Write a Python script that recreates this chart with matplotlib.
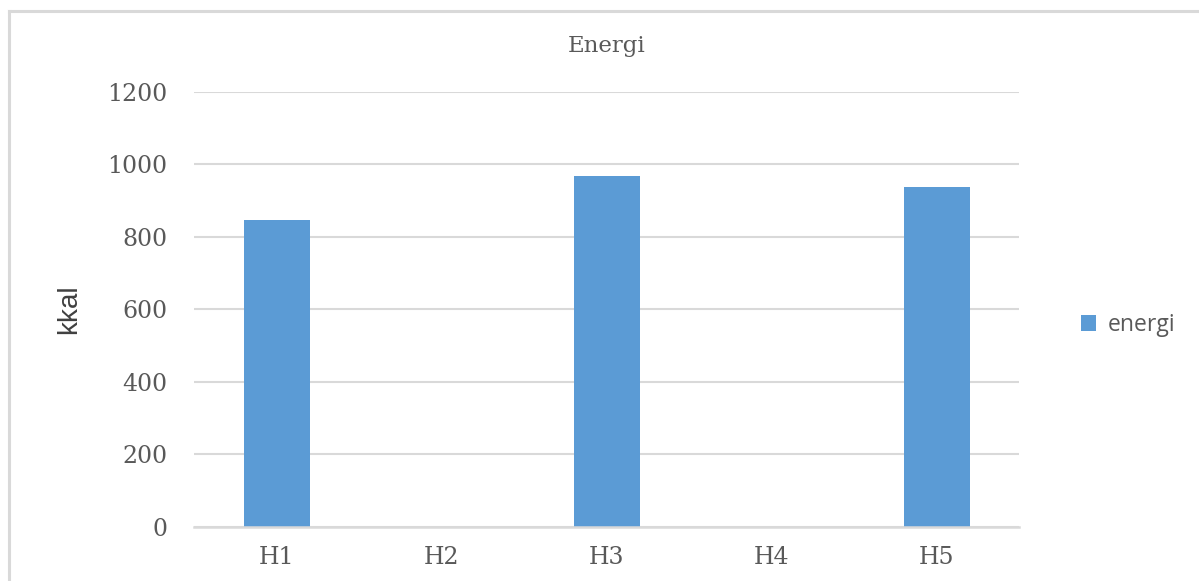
import matplotlib
matplotlib.use("Agg")
import matplotlib.pyplot as plt
from matplotlib.lines import Line2D

categories = ["H1", "H2", "H3", "H4", "H5"]
energi = [846, 0, 969, 0, 939]
y_ticks = [0, 200, 400, 600, 800, 1000, 1200]

W, H = 1199, 581
fig = plt.figure(figsize=(W / 100, H / 100), dpi=100)
fig.patch.set_facecolor("white")

left, right, top, bottom = 194, 1019, 92, 526.5
ax = fig.add_axes([left / W, 1 - bottom / H, (right - left) / W, (bottom - top) / H])

bar_color = "#5B9BD5"
grid_color = "#d9d9d9"
text_color = "#595959"
serif = ["DejaVu Serif"]

x = list(range(len(categories)))
ax.bar(x, energi, width=0.4, color=bar_color, label="energi", zorder=3)

ax.set_xlim(-0.5, len(categories) - 0.5)
ax.set_ylim(0, 1200)
ax.set_yticks(y_ticks)
ax.set_xticks(x)
ax.set_xticklabels(categories)

ax.yaxis.grid(True, color=grid_color, linewidth=1.5, zorder=0)
ax.xaxis.grid(False)
for side in ["top", "right", "left"]:
    ax.spines[side].set_visible(False)
ax.spines["bottom"].set_color(grid_color)
ax.spines["bottom"].set_linewidth(1.8)
ax.spines["bottom"].set_zorder(4)

ax.tick_params(axis="y", length=0, pad=19, labelsize=17, labelcolor=text_color)
ax.tick_params(axis="x", length=0, pad=14, labelsize=17, labelcolor=text_color)
for lbl in ax.get_xticklabels() + ax.get_yticklabels():
    lbl.set_family(serif)

ax.set_ylabel("kkal", fontsize=20, color="#404040", family=["Liberation Sans"], labelpad=18)

fig.text((left + right) / 2 / W, 1 - 46 / H, "Energi", ha="center", va="center",
         fontsize=16.5, color=text_color, family=serif)

ax.legend(loc="center left", bbox_to_anchor=(1070 / W, 1 - 325 / H),
          bbox_transform=fig.transFigure, frameon=False,
          handlelength=0.65, handleheight=0.65, handletextpad=0.5, borderpad=0,
          prop={"family": ["Open Sans"], "size": 16.5}, labelcolor=text_color)

# light frame around the chart (left and top edges)
fig.add_artist(Line2D([8.5 / W, 8.5 / W], [0, 1 - 11 / H], transform=fig.transFigure,
                      color=grid_color, linewidth=2.2))
fig.add_artist(Line2D([8.5 / W, 1], [1 - 11 / H, 1 - 11 / H], transform=fig.transFigure,
                      color=grid_color, linewidth=2.2))

fig.savefig("out.png", dpi=100, facecolor="white")
